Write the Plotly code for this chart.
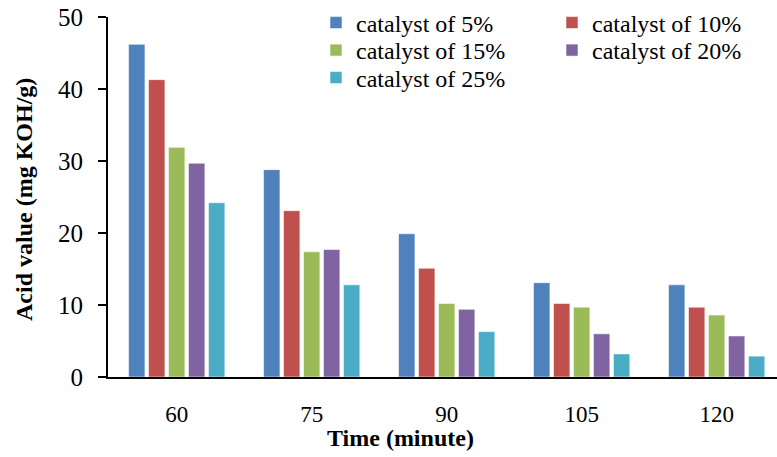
import plotly.graph_objects as go

times = ["60", "75", "90", "105", "120"]
series_names = ["catalyst of 5%", "catalyst of 10%", "catalyst of 15%", "catalyst of 20%", "catalyst of 25%"]
cat5 = [46.2, 28.8, 19.9, 13.1, 12.8]
cat10 = [41.3, 23.1, 15.1, 10.2, 9.7]
cat15 = [31.9, 17.4, 10.2, 9.7, 8.6]
cat20 = [29.7, 17.7, 9.4, 6.0, 5.7]
cat25 = [24.2, 12.8, 6.3, 3.2, 2.9]
colors = ["#4F81BD", "#C0504D", "#9BBB59", "#8064A2", "#4BACC6"]
y_ticks = [0, 10, 20, 30, 40, 50]

FONT = "Times New Roman, Liberation Serif, serif"
L, T, PW, PH = 108, 17, 669, 360

# legend entry positions (pixel): text start x, row centre y
legend_pos = [(356, 23), (592, 23), (356, 50.5), (592, 50.5), (356, 78)]
legend_ids = ["legend", "legend2", "legend3", "legend4", "legend5"]

fig = go.Figure()
for name, vals, col, lid in zip(series_names, [cat5, cat10, cat15, cat20, cat25], colors, legend_ids):
    fig.add_trace(go.Bar(x=times, y=vals, name=name, legend=lid,
                         marker=dict(color=col, line=dict(color="rgba(255,255,255,0.55)", width=1))))

legends = {}
for lid, (tx, ty) in zip(legend_ids, legend_pos):
    legends[lid] = dict(x=(tx - 40 - L) / PW, y=(T + PH - ty) / PH, xanchor="left", yanchor="middle",
                        font=dict(family=FONT, size=24, color="black"),
                        bgcolor="rgba(0,0,0,0)", borderwidth=0, itemclick=False, itemdoubleclick=False)

fig.update_layout(
    width=777, height=457,
    margin=dict(l=L, r=777 - L - PW, t=T, b=457 - T - PH),
    plot_bgcolor="white", paper_bgcolor="white",
    barmode="group", bargap=0.26, bargroupgap=0.18,
    font=dict(family=FONT, color="black"),
    showlegend=True,
    xaxis=dict(type="category", range=[-0.509, 4.447], showline=True, linecolor="black", linewidth=2,
               ticks="", tickfont=dict(family=FONT, size=23), ticklabelstandoff=15,
               showgrid=False, zeroline=False),
    yaxis=dict(range=[0, 50], tickvals=y_ticks, showline=True, linecolor="black", linewidth=2,
               ticks="outside", ticklen=8, tickwidth=2, tickcolor="black",
               tickfont=dict(family=FONT, size=25), ticklabelstandoff=10,
               showgrid=False, zeroline=False),
    annotations=[
        dict(text="<b>Time (minute)</b>", xref="paper", yref="paper", x=(400 - L) / PW, y=(T + PH - 438) / PH,
             xanchor="center", yanchor="middle", showarrow=False, font=dict(family=FONT, size=24)),
        dict(text="<b>Acid value (mg KOH/g)</b>", xref="paper", yref="paper", x=(24 - L) / PW, y=(T + PH - 200) / PH,
             xanchor="center", yanchor="middle", textangle=-90, showarrow=False, font=dict(family=FONT, size=24)),
    ],
    **legends,
)
fig.write_html("out.html")
